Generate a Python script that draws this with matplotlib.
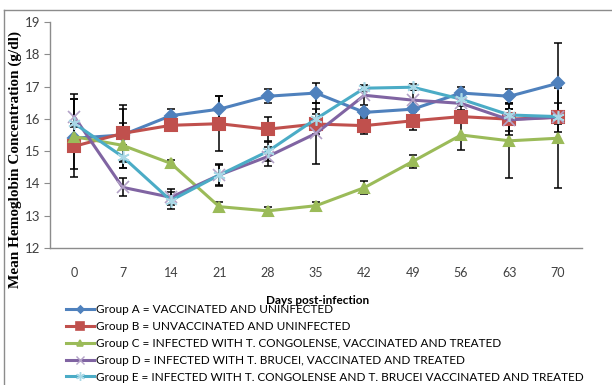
import numpy as np
import matplotlib
matplotlib.use("Agg")
import matplotlib.pyplot as plt
from matplotlib.lines import Line2D

days = ["0", "7", "14", "21", "28", "35", "42", "49", "56", "63", "70"]

group_a = [15.4, 15.5, 16.1, 16.3, 16.7, 16.8, 16.2, 16.3, 16.8, 16.7, 17.1]
group_b = [15.15, 15.55, 15.8, 15.85, 15.68, 15.84, 15.79, 15.94, 16.07, 15.99, 16.05]
group_c = [15.45, 15.18, 14.62, 13.28, 13.15, 13.31, 13.87, 14.68, 15.5, 15.32, 15.4]
group_d = [16.07, 13.88, 13.57, 14.26, 14.83, 15.55, 16.73, 16.58, 16.48, 15.97, 16.05]
group_e = [15.86, 14.83, 13.47, 14.26, 14.99, 16.0, 16.95, 16.98, 16.61, 16.12, 16.07]

err_a = [1.2, 0.8, 0.2, 0.42, 0.22, 0.3, 0.12, 0.28, 0.18, 0.22, 1.25]
err_b = [0.7, 0.88, 0.1, 0.85, 0.38, 0.3, 0.25, 0.28, 0.2, 0.5, 0.45]
err_c = [0.3, 0.7, 0.12, 0.15, 0.12, 0.12, 0.2, 0.2, 0.45, 1.15, 1.55]
err_d = [0.7, 0.28, 0.25, 0.3, 0.3, 0.95, 0.3, 0.3, 0.25, 0.35, 0.1]
err_e = [0.75, 0.35, 0.25, 0.35, 0.3, 0.3, 0.1, 0.1, 0.2, 0.2, 0.1]

labels = [
    "Group A = VACCINATED AND UNINFECTED",
    "Group B = UNVACCINATED AND UNINFECTED",
    "Group C = INFECTED WITH T. CONGOLENSE, VACCINATED AND TREATED",
    "Group D = INFECTED WITH T. BRUCEI, VACCINATED AND TREATED",
    "Group E = INFECTED WITH T. CONGOLENSE AND T. BRUCEI VACCINATED AND TREATED",
]

series = [group_a, group_b, group_c, group_d, group_e]
errors = [err_a, err_b, err_c, err_d, err_e]
colors = ["#4F81BD", "#C0504D", "#9BBB59", "#8064A2", "#4BACC6"]
markers = ["D", "s", "^", "x", "*"]
msizes = [6, 8.5, 7.5, 8, 9]

W, H = 612, 385
fig = plt.figure(figsize=(W / 100, H / 100), dpi=100)
ax = fig.add_axes([50 / W, 1 - 248 / H, 532 / W, 226 / H])

x = np.arange(len(days))
handles = []
for vals, errs, c, m, ms, lab in zip(series, errors, colors, markers, msizes, labels):
    ax.errorbar(x, vals, yerr=errs, fmt="none", ecolor="black", elinewidth=1.1,
                capsize=3, capthick=1.1, zorder=2)
    if m == "*":
        # asterisk-like marker drawn light over the line
        ax.plot(x, vals, color=c, lw=2.2, zorder=3)
        ax.plot(x, vals, ls="none", marker=(6, 2, 0), ms=ms, mec="#A9D8E6", mew=1.2, zorder=4)
        handles.append(Line2D([], [], color=c, lw=2.2, marker=(6, 2, 0), ms=ms * 0.7,
                              mec="#A9D8E6", mew=1.0))
    elif m == "x":
        ax.plot(x, vals, color=c, lw=2.2, zorder=3)
        ax.plot(x, vals, ls="none", marker="x", ms=ms, mec="#B3A2C7", mew=1.2, zorder=4)
        handles.append(Line2D([], [], color=c, lw=2.2, marker="x", ms=ms * 0.7,
                              mec="#B3A2C7", mew=1.0))
    else:
        ax.plot(x, vals, color=c, lw=2.2, marker=m, ms=ms, mec=c, mew=1.5, zorder=3)
        handles.append(Line2D([], [], color=c, lw=2.2, marker=m, ms=ms * 0.6, mec=c, mew=1.2))

ax.set_xlim(-0.5, len(days) - 0.5)
ax.set_ylim(12, 19)
ax.set_xticks(x, days)
ax.set_yticks(range(12, 20))

for s in ["top", "right"]:
    ax.spines[s].set_visible(False)
for s in ["left", "bottom"]:
    ax.spines[s].set_color("#8C8C8C")
    ax.spines[s].set_linewidth(1)

tick_font = "Lato"
ax.tick_params(axis="x", length=0, pad=14, labelsize=9, labelcolor="#404040")
ax.tick_params(axis="y", length=4, width=0.8, color="#8C8C8C", pad=3, labelsize=9.5,
               labelcolor="#404040")
for t in ax.get_xticklabels() + ax.get_yticklabels():
    t.set_fontfamily(tick_font)

fig.text(15 / W, 1 - 160 / H, "Mean Hemoglobin Concentration (g/dl)", rotation=90,
         ha="center", va="center", fontsize=11, fontweight="bold",
         family="Liberation Serif")
fig.text(318 / W, 1 - 300 / H, "Days post-infection", ha="center", va="center",
         fontsize=8.5, fontweight="bold", family=tick_font)

fig.legend(handles, labels, loc="upper left", bbox_to_anchor=(66 / W, 1 - 304 / H),
           frameon=False, handlelength=2.4, handletextpad=0.15, labelspacing=0.5,
           borderaxespad=0, borderpad=0, prop={"family": tick_font, "size": 8.5})

# outer chart border (top and left edges)
fig.add_artist(Line2D([4 / W, 1], [1 - 10 / H, 1 - 10 / H], color="#8C8C8C", lw=1))
fig.add_artist(Line2D([4 / W, 4 / W], [0, 1 - 10 / H], color="#8C8C8C", lw=1))

fig.savefig("out.png", dpi=100, facecolor="white")
